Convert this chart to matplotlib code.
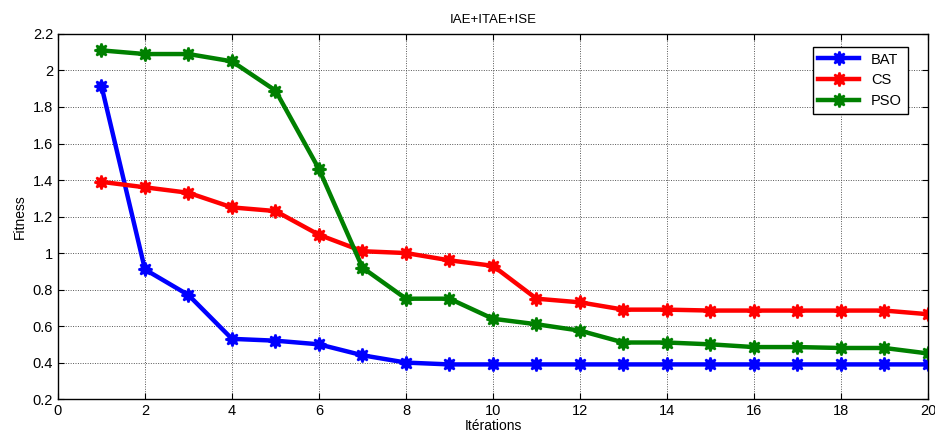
import matplotlib.pyplot as plt

plt.rcParams['font.family'] = ['Liberation Sans', 'DejaVu Sans']

iterations = list(range(1, 21))
bat = [1.915, 0.91, 0.77, 0.53, 0.52, 0.50, 0.44, 0.40, 0.39, 0.39,
       0.39, 0.39, 0.39, 0.39, 0.39, 0.39, 0.39, 0.39, 0.39, 0.39]
cs = [1.39, 1.36, 1.33, 1.25, 1.23, 1.10, 1.01, 1.00, 0.96, 0.93,
      0.75, 0.73, 0.69, 0.69, 0.685, 0.685, 0.685, 0.685, 0.685, 0.665]
pso = [2.11, 2.09, 2.09, 2.05, 1.89, 1.46, 0.92, 0.75, 0.75, 0.64,
       0.61, 0.575, 0.51, 0.51, 0.50, 0.485, 0.485, 0.48, 0.48, 0.45]

series = [('BAT', bat, '#0000ff'), ('CS', cs, '#ff0000'), ('PSO', pso, '#008000')]

fig = plt.figure(figsize=(9.35, 4.41), dpi=100)
ax = fig.add_axes([0.062, 0.095, 0.9305, 0.828])

for name, vals, col in series:
    ax.plot(iterations, vals, '-', color=col, lw=3.2, marker=(8, 1, 0), markersize=10,
            markeredgewidth=1.5, label=name)

ax.set_xlim(0, 20)
ax.set_ylim(0.2, 2.2)
ax.set_xticks(range(0, 21, 2))
ax.set_yticks([0.2 * i for i in range(1, 12)])
ax.set_yticklabels(['0.2', '0.4', '0.6', '0.8', '1', '1.2', '1.4', '1.6', '1.8', '2', '2.2'])
ax.grid(True, color='#555555', linestyle=(0, (1, 1.5)), linewidth=0.7)
ax.tick_params(direction='in', top=True, right=True, labelsize=10.5, length=4)
for s in ax.spines.values():
    s.set_linewidth(1.0)

ax.set_title('IAE+ITAE+ISE', fontsize=9.5, pad=8)
ax.set_xlabel('Itérations', fontsize=10, labelpad=1)
ax.set_ylabel('Fitness', fontsize=10, labelpad=4)

leg = ax.legend(loc='upper right', fontsize=10.5, fancybox=False, edgecolor='black',
                framealpha=1, handlelength=2.8, borderpad=0.4, labelspacing=0.45,
                bbox_to_anchor=(0.985, 0.985))
leg.get_frame().set_linewidth(1.0)

fig.savefig('out.png')
